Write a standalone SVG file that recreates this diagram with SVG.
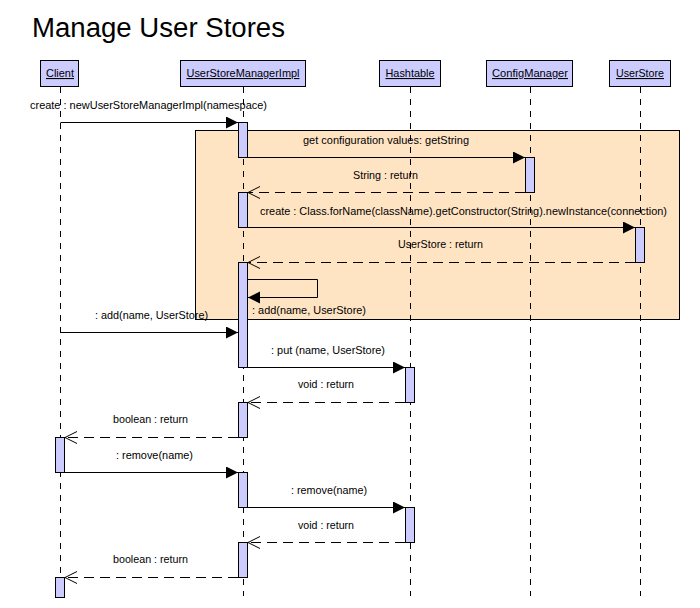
<svg xmlns="http://www.w3.org/2000/svg" width="700" height="608" viewBox="0 0 700 608">
<defs>
<style>
text{font-family:"Liberation Sans",Arial,sans-serif;font-size:11px;fill:#000}
.title{font-size:27px}
.hdr{fill:#ccccff;stroke:#000;stroke-width:1}
.hl{text-decoration:underline;text-anchor:middle}
.life{stroke:#000;stroke-width:1;stroke-dasharray:6,6;fill:none}
.act{fill:#ccccff;stroke:#000;stroke-width:1}
.msg{stroke:#000;stroke-width:1;fill:none}
.ret{stroke:#000;stroke-width:1;fill:none;stroke-dasharray:10,6}
.frame{fill:#ffe4c4;stroke:#000;stroke-width:1}
</style>
<marker id="fa" markerWidth="13" markerHeight="13" refX="12" refY="6" orient="auto" markerUnits="userSpaceOnUse">
<path d="M0,0 L12,6 L0,12 Z" fill="#000"/>
</marker>
<marker id="oa" markerWidth="13" markerHeight="14" refX="12" refY="6.5" orient="auto" markerUnits="userSpaceOnUse">
<path d="M0,0.5 L12,6.5 L0,12.5" fill="none" stroke="#000" stroke-width="1"/>
</marker>
</defs>
<rect width="700" height="608" fill="#fff"/>
<text class="title" x="32" y="37" textLength="253" lengthAdjust="spacingAndGlyphs">Manage User Stores</text>

<rect class="frame" x="195.5" y="130.5" width="484" height="189"/>

<g id="lifelines">
<line class="life" x1="60.5" y1="87" x2="60.5" y2="596"/>
<line class="life" x1="243.5" y1="87" x2="243.5" y2="596"/>
<line class="life" x1="410.5" y1="87" x2="410.5" y2="596"/>
<line class="life" x1="530.5" y1="87" x2="530.5" y2="596"/>
<line class="life" x1="640.5" y1="87" x2="640.5" y2="596"/>
</g>

<g id="Client">
<rect class="hdr" x="40.5" y="60.5" width="38" height="26"/>
<text class="hl" x="60" y="77" textLength="28" lengthAdjust="spacingAndGlyphs">Client</text>
<rect class="act" x="55.5" y="437.5" width="9" height="35"/>
<rect class="act" x="55.5" y="577.5" width="9" height="20"/>
</g>
<g id="UserStoreManagerImpl">
<rect class="hdr" x="180.5" y="60.5" width="125" height="26"/>
<text class="hl" x="243" y="77" textLength="113" lengthAdjust="spacingAndGlyphs">UserStoreManagerImpl</text>
<rect class="act" x="238.5" y="122.5" width="9" height="35"/>
<rect class="act" x="238.5" y="192.5" width="9" height="35"/>
<rect class="act" x="238.5" y="262.5" width="9" height="105"/>
<rect class="act" x="238.5" y="402.5" width="9" height="35"/>
<rect class="act" x="238.5" y="472.5" width="9" height="35"/>
<rect class="act" x="238.5" y="542.5" width="9" height="35"/>
</g>
<g id="Hashtable">
<rect class="hdr" x="379.5" y="60.5" width="61" height="26"/>
<text class="hl" x="410" y="77" textLength="49" lengthAdjust="spacingAndGlyphs">Hashtable</text>
<rect class="act" x="405.5" y="367.5" width="9" height="35"/>
<rect class="act" x="405.5" y="507.5" width="9" height="35"/>
</g>
<g id="ConfigManager">
<rect class="hdr" x="486.5" y="60.5" width="86" height="26"/>
<text class="hl" x="530" y="77" textLength="76" lengthAdjust="spacingAndGlyphs">ConfigManager</text>
<rect class="act" x="525.5" y="157.5" width="9" height="35"/>
</g>
<g id="UserStore">
<rect class="hdr" x="609.5" y="60.5" width="61" height="26"/>
<text class="hl" x="640" y="77" textLength="48" lengthAdjust="spacingAndGlyphs">UserStore</text>
<rect class="act" x="635.5" y="227.5" width="9" height="35"/>
</g>

<g id="connectors">
<line class="msg" x1="60.5" y1="122.5" x2="238" y2="122.5" marker-end="url(#fa)"/>
<text x="30" y="109" textLength="237" lengthAdjust="spacingAndGlyphs">create : newUserStoreManagerImpl(namespace)</text>

<line class="msg" x1="247.5" y1="157.5" x2="525" y2="157.5" marker-end="url(#fa)"/>
<text x="303" y="144" textLength="166" lengthAdjust="spacingAndGlyphs">get configuration values: getString</text>

<line class="ret" x1="525" y1="192.5" x2="248" y2="192.5" marker-end="url(#oa)"/>
<text x="353" y="179" textLength="65" lengthAdjust="spacingAndGlyphs">String : return</text>

<line class="msg" x1="247.5" y1="227.5" x2="635" y2="227.5" marker-end="url(#fa)"/>
<text x="260" y="215" textLength="407" lengthAdjust="spacingAndGlyphs">create : Class.forName(className).getConstructor(String).newInstance(connection)</text>

<line class="ret" x1="635" y1="262.5" x2="248" y2="262.5" marker-end="url(#oa)"/>
<text x="398" y="248" textLength="85" lengthAdjust="spacingAndGlyphs">UserStore : return</text>

<path class="msg" d="M247.5,279.5 H317.5 V297.5 H248" marker-end="url(#fa)"/>
<text x="252" y="314" textLength="114" lengthAdjust="spacingAndGlyphs">: add(name, UserStore)</text>

<line class="msg" x1="60.5" y1="332.5" x2="238" y2="332.5" marker-end="url(#fa)"/>
<text x="95" y="319" textLength="113" lengthAdjust="spacingAndGlyphs">: add(name, UserStore)</text>

<line class="msg" x1="247.5" y1="367.5" x2="405" y2="367.5" marker-end="url(#fa)"/>
<text x="271" y="354" textLength="114" lengthAdjust="spacingAndGlyphs">: put (name, UserStore)</text>

<line class="ret" x1="405" y1="402.5" x2="248" y2="402.5" marker-end="url(#oa)"/>
<text x="298" y="388" textLength="56" lengthAdjust="spacingAndGlyphs">void : return</text>

<line class="ret" x1="238" y1="437.5" x2="65" y2="437.5" marker-end="url(#oa)"/>
<text x="113" y="423" textLength="75" lengthAdjust="spacingAndGlyphs">boolean : return</text>

<line class="msg" x1="64.5" y1="472.5" x2="238" y2="472.5" marker-end="url(#fa)"/>
<text x="116" y="459" textLength="77" lengthAdjust="spacingAndGlyphs">: remove(name)</text>

<line class="msg" x1="247.5" y1="507.5" x2="405" y2="507.5" marker-end="url(#fa)"/>
<text x="291" y="494" textLength="76" lengthAdjust="spacingAndGlyphs">: remove(name)</text>

<line class="ret" x1="405" y1="542.5" x2="248" y2="542.5" marker-end="url(#oa)"/>
<text x="298" y="529" textLength="56" lengthAdjust="spacingAndGlyphs">void : return</text>

<line class="ret" x1="238" y1="577.5" x2="65" y2="577.5" marker-end="url(#oa)"/>
<text x="113" y="563" textLength="75" lengthAdjust="spacingAndGlyphs">boolean : return</text>
</g>
</svg>
